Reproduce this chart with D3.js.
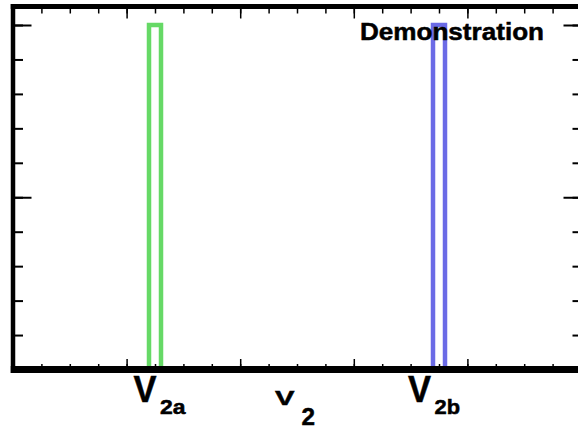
<!DOCTYPE html>
<html>
<head>
<meta charset="utf-8">
<script src="https://cdn.jsdelivr.net/npm/d3@7/dist/d3.min.js"></script>
<style>
  html, body { margin: 0; padding: 0; background: #fff; }
  svg { display: block; }
  text { font-family: "Liberation Sans", Arial, Helvetica, sans-serif; font-weight: bold; fill: #000; stroke: #000; stroke-width: 0.5px; }
</style>
</head>
<body>
<svg id="chart" width="578" height="430"></svg>
<script>
// ---- data ----
const categories = ["V2a", "V2b"];
const barPositions = [5, 15];        // x position in axis units
const barValues = [10, 10];          // bar heights
const barColors = ["#66d966", "#6b6be6"];
const titleText = "Demonstration";
const xAxisTitle = ["V", "2"];
const xMinorTicks = d3.range(0, 21, 1);
const xMajorTicks = d3.range(0, 21, 4);
const yMinorTicks = d3.range(0, 11, 1);
const yMajorTicks = [0, 5, 10];

// ---- layout ----
const svg = d3.select("#chart");
const x = d3.scaleLinear().domain([0, 20]).range([13, 581]);
const y = d3.scaleLinear().domain([0, 10]).range([369.5, 25]);
const yTop = y.invert(6.5);

// bars (outlined)
const barHalf = 6;
svg.append("g").selectAll("rect")
  .data(categories.map((c, i) => ({c, x: barPositions[i], v: barValues[i], col: barColors[i]})))
  .join("rect")
  .attr("x", d => x(d.x) - barHalf)
  .attr("width", barHalf * 2)
  .attr("y", d => y(d.v))
  .attr("height", d => y(0) - y(d.v))
  .attr("fill", "#fff")
  .attr("stroke", d => d.col)
  .attr("stroke-width", 4.5);

function ticksG(axisFn, scale, vals, size, transform, sw) {
  const g = svg.append("g").attr("transform", transform)
    .call(axisFn(scale).tickValues(vals).tickSize(size).tickFormat(""));
  g.select(".domain").remove();
  g.selectAll(".tick line").attr("stroke", "#000").attr("stroke-width", sw);
  return g;
}
ticksG(d3.axisTop, x, xMinorTicks, 5.5, `translate(0,${y(0)})`, 1.5);
ticksG(d3.axisTop, x, xMajorTicks, 10.5, `translate(0,${y(0)})`, 1.5);
ticksG(d3.axisBottom, x, xMinorTicks, 7, `translate(0,${y(yTop)})`, 1.5);
ticksG(d3.axisBottom, x, xMajorTicks, 12, `translate(0,${y(yTop)})`, 1.5);
ticksG(d3.axisRight, y, yMinorTicks, 10, `translate(${x(0)},0)`, 2);
ticksG(d3.axisRight, y, yMajorTicks, 18.5, `translate(${x(0)},0)`, 2);
ticksG(d3.axisLeft, y, yMinorTicks, 8.5, `translate(${x(20)},0)`, 2);
ticksG(d3.axisLeft, y, yMajorTicks, 17.5, `translate(${x(20)},0)`, 2);

// frame
const frame = svg.append("g").attr("stroke", "#000");
frame.append("line").attr("x1", x(0)).attr("x2", x(0)).attr("y1", y(yTop) - 2.5).attr("y2", y(0) + 3.5).attr("stroke-width", 4.5);
frame.append("line").attr("x1", x(20)).attr("x2", x(20)).attr("y1", y(yTop) - 2.5).attr("y2", y(0) + 3.5).attr("stroke-width", 4.5);
frame.append("line").attr("x1", x(0) - 2.25).attr("x2", x(20) + 2).attr("y1", y(yTop)).attr("y2", y(yTop)).attr("stroke-width", 5);
frame.append("line").attr("x1", x(0) - 2.25).attr("x2", x(20) + 2).attr("y1", y(0)).attr("y2", y(0)).attr("stroke-width", 7);

// title
svg.append("text").attr("x", 360).attr("y", 39.5)
  .attr("font-size", 24).attr("textLength", 184).attr("lengthAdjust", "spacingAndGlyphs")
  .text(titleText);

// category labels under bars
categories.forEach((c, i) => {
  const cx = x(barPositions[i]);
  const off = i === 0 ? -21.5 : -31;
  svg.append("text").attr("x", cx + off).attr("y", 401.7).attr("font-size", 36)
    .attr("textLength", 23).attr("lengthAdjust", "spacingAndGlyphs").text(c[0]);
  svg.append("text").attr("x", cx + off + 26.5).attr("y", 413.5)
    .attr("font-size", 20).attr("textLength", 25.5).attr("lengthAdjust", "spacingAndGlyphs")
    .text(c.slice(1));
});

// x axis title
svg.append("text").attr("x", 275).attr("y", 405).attr("font-size", 20)
  .attr("textLength", 19.5).attr("lengthAdjust", "spacingAndGlyphs").text(xAxisTitle[0]);
svg.append("text").attr("x", 301.5).attr("y", 425).attr("font-size", 24)
  .attr("textLength", 13.5).attr("lengthAdjust", "spacingAndGlyphs").text(xAxisTitle[1]);
</script>
</body>
</html>
